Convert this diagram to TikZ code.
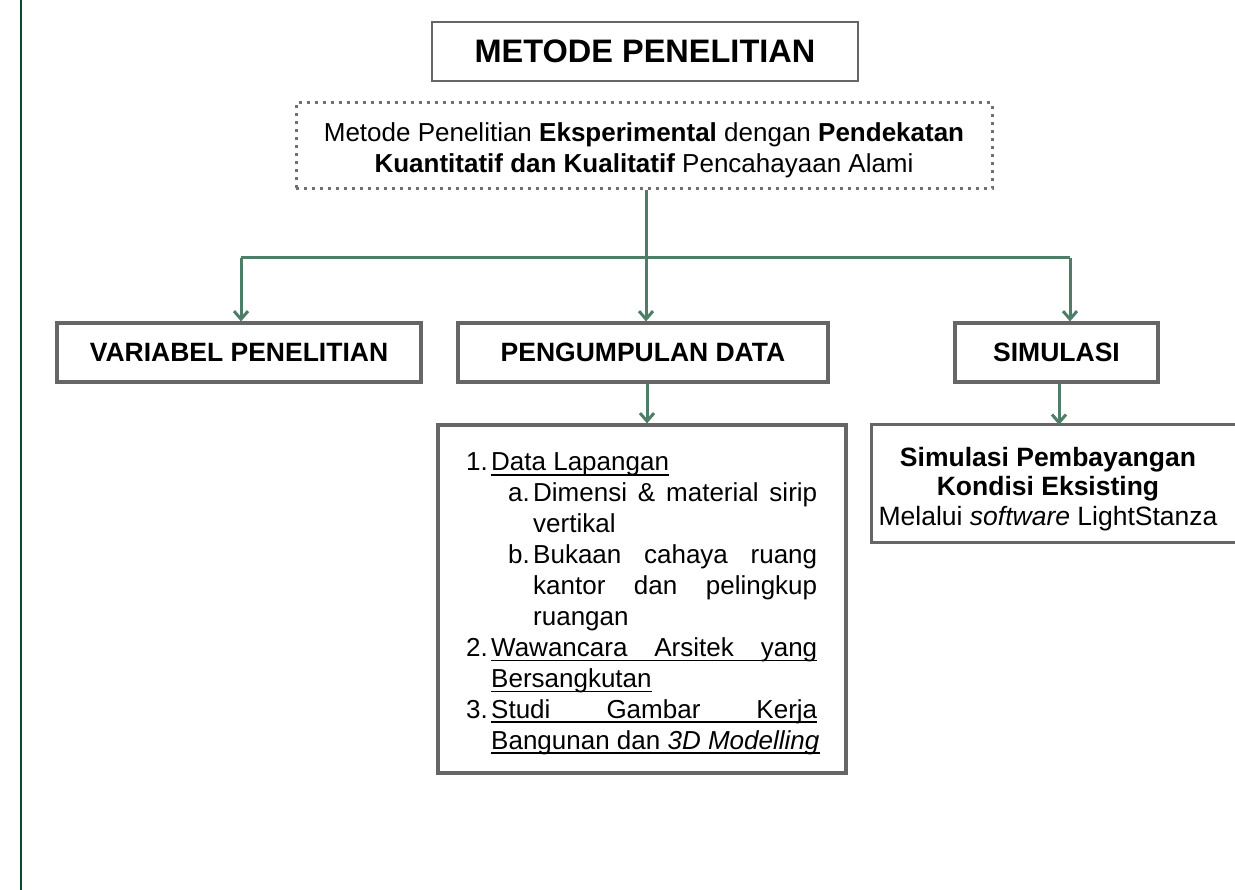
\documentclass[tikz,border=0pt]{standalone}
\usepackage{fontspec}
\setmainfont{Liberation Sans}
\usetikzlibrary{arrows.meta}
\definecolor{boxgray}{HTML}{666666}
\definecolor{dotgray}{HTML}{707070}
\definecolor{arrgreen}{HTML}{4E7D68}
\definecolor{darkgreen}{HTML}{0B4A2A}
\newcommand{\jl}[2]{\hbox to #1{\spaceskip=0.28em plus 1fil\relax #2}}
\begin{document}
\begin{tikzpicture}[x=1pt,y=-1pt,
  boxl/.style={draw=boxgray, line width=3.2pt},
  headbox/.style={boxl, inner sep=0pt, font=\fontsize{26.5}{31}\selectfont\bfseries},
  dotbox/.style={draw=dotgray, line width=3pt, dash pattern=on 3pt off 5pt, inner sep=0pt},
  txt/.style={inner sep=0pt, font=\fontsize{26}{31}\selectfont},
  ul/.style={draw=black, line width=1.6pt},
  conn/.style={draw=arrgreen, line width=3pt},
  arr/.style={conn, -{Straight Barb[length=8pt,width=14pt,line width=3pt]}}
]
\useasboundingbox (0,0) rectangle (1235,890);
\clip (0,0) rectangle (1235,890);
\fill[white] (0,0) rectangle (1235,890);

% left rule
\coordinate (ruletop) at (21,0);
\coordinate (rulebot) at (21,890);
\draw[darkgreen, line width=2.5pt] (ruletop) -- (rulebot);

% title
\node[draw=boxgray, line width=2.2pt, minimum width=426pt, minimum height=59pt, inner sep=0pt,
      font=\fontsize{32.5}{38}\selectfont\bfseries] (title) at (645,51.5) {METODE PENELITIAN};

% method (dotted)
\node[dotbox, minimum width=696pt, minimum height=86pt] (method) at (644,146) {};
\node[txt, align=center] (methodtxt) at (644,150)
  {Metode Penelitian \textbf{Eksperimental} dengan \textbf{Pendekatan}\\
   \textbf{Kuantitatif dan Kualitatif} Pencahayaan Alami};

% row boxes
\node[headbox, minimum width=364pt, minimum height=59pt] (var) at (239,352.5) {VARIABEL PENELITIAN};
\node[headbox, minimum width=370pt, minimum height=59pt] (peng) at (643,352.5) {PENGUMPULAN DATA};
\node[headbox, minimum width=203pt, minimum height=59pt] (sim) at (1056.5,352.5) {SIMULASI};

% connectors
\coordinate (jl) at (241,258);
\coordinate (jm) at (646,258);
\coordinate (jr) at (1070,258);
\draw[conn] (jl) -- (jr);
\draw[arr] (method.south -| jm) -- (peng.north -| jm);
\draw[arr] (jl) -- (var.north -| jl);
\draw[arr] (jr) -- (sim.north -| jr);

% list box
\node[boxl, minimum width=408pt, minimum height=348pt, inner sep=0pt] (list) at (642,599) {};
\coordinate (pl) at (647,0);
\draw[arr] (peng.south -| pl) -- (list.north -| pl);

% simulasi detail
\node[inner sep=0pt, minimum width=352pt, minimum height=117pt] (simdet) at (1048,483.5) {};
\node[txt, align=center, font=\fontsize{26.5}{29.5}\selectfont] (simtxt) at (1048,489)
  {\textbf{Simulasi Pembayangan}\\ \textbf{Kondisi Eksisting}\\ Melalui \textit{software} LightStanza};
\coordinate (rightedge) at (1245,0);
\draw[boxl] (simdet.north west -| rightedge) -- (simdet.north west) -- (simdet.south west) -- (simdet.south west -| rightedge);
\coordinate (sl) at (1059,0);
\draw[arr] (sim.south -| sl) -- (simdet.north -| sl);

% list text
\node[txt, anchor=base east] (n1) at (488,471) {1.};
\node[txt, anchor=base west] (l1) at (491,471) {Data Lapangan};
\node[txt, anchor=base east] (na) at (530,501.9) {a.};
\node[txt, anchor=base west] (l2) at (533,501.9) {\jl{284pt}{Dimensi \& material sirip}};
\node[txt, anchor=base west] (l3) at (533,532.8) {vertikal};
\node[txt, anchor=base east] (nb) at (530,563.7) {b.};
\node[txt, anchor=base west] (l4) at (533,563.7) {\jl{284pt}{Bukaan cahaya ruang}};
\node[txt, anchor=base west] (l5) at (533,594.6) {\jl{284pt}{kantor dan pelingkup}};
\node[txt, anchor=base west] (l6) at (533,625.5) {ruangan};
\node[txt, anchor=base east] (n2) at (488,656.4) {2.};
\node[txt, anchor=base west] (l7) at (491,656.4) {\jl{326pt}{Wawancara Arsitek yang}};
\node[txt, anchor=base west] (l8) at (491,687.3) {Bersangkutan};
\node[txt, anchor=base east] (n3) at (488,718.2) {3.};
\node[txt, anchor=base west] (l9) at (491,718.2) {\jl{326pt}{Studi Gambar Kerja}};
\node[txt, anchor=base west] (l10) at (491,749.1) {Bangunan dan \textit{3D Modelling}};

% underlines
\foreach \n in {l1,l7,l8,l9,l10}
  \draw[ul] ([yshift=-4pt]\n.base west) -- ([yshift=-4pt]\n.base east);
\end{tikzpicture}
\end{document}
